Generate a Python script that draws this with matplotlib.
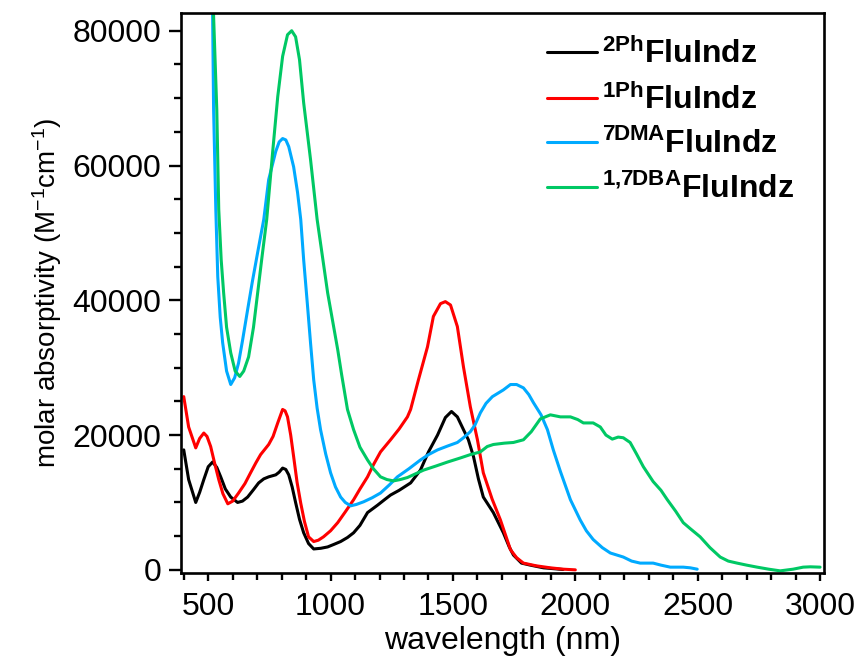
import matplotlib
matplotlib.use("Agg")
import matplotlib.pyplot as plt
from matplotlib.ticker import MultipleLocator, FixedLocator

plt.rcParams['font.family'] = ['Liberation Sans', 'DejaVu Sans']
plt.rcParams['mathtext.fontset'] = 'custom'
plt.rcParams['mathtext.rm'] = 'Liberation Sans'
plt.rcParams['mathtext.it'] = 'Liberation Sans:italic'
plt.rcParams['mathtext.sf'] = 'Liberation Sans:bold'
plt.rcParams['mathtext.bf'] = 'Liberation Sans:bold'

# ---- data ----
wl_2ph = [400, 420, 449, 465, 482, 500, 518, 535, 551, 570, 592, 620, 640, 661, 685, 706, 727,
          747, 776, 790, 804, 817, 829, 843, 857, 873, 890, 910, 931, 960, 988, 1015, 1041, 1069,
          1094, 1120, 1151, 1192, 1220, 1245, 1280, 1327, 1367, 1400, 1437, 1469, 1494, 1518,
          1543, 1563, 1584, 1604, 1624, 1665, 1706, 1730, 1747, 1780, 1816, 1870, 1950]
abs_2ph = [17800, 13400, 10000, 11500, 13400, 15300, 16000, 15200, 13800, 12000, 10800, 10000,
           10200, 10800, 11900, 12900, 13500, 13800, 14100, 14500, 15100, 14900, 14100, 12300,
           10000, 7500, 5500, 3900, 3100, 3200, 3400, 3800, 4200, 4800, 5500, 6600, 8500, 9600,
           10400, 11100, 11800, 12900, 14800, 17500, 20000, 22600, 23500, 22700, 20800, 19300,
           16800, 13500, 10800, 8500, 5500, 3400, 2200, 1000, 700, 300, 50]

wl_1ph = [400, 420, 449, 465, 482, 495, 510, 525, 543, 560, 580, 600, 624, 650, 673, 695, 714,
          747, 765, 784, 804, 814, 824, 837, 849, 863, 878, 893, 910, 931, 950, 971, 1000, 1029,
          1060, 1094, 1120, 1151, 1175, 1204, 1245, 1280, 1314, 1327, 1359, 1396, 1420, 1449,
          1469, 1490, 1518, 1543, 1571, 1600, 1624, 1660, 1694, 1735, 1760, 1788, 1840, 1898,
          1950, 2000]
abs_1ph = [25700, 21200, 18100, 19500, 20300, 19800, 18300, 16000, 13400, 11300, 9800, 10200,
           11400, 12800, 14400, 15900, 17100, 18600, 19800, 21800, 23800, 23600, 22700, 20000,
           16800, 13000, 9900, 7200, 4900, 4200, 4400, 4900, 5800, 7000, 8600, 10400, 12000,
           13800, 15600, 17500, 19300, 20900, 22700, 23800, 28200, 33100, 37600, 39500, 39800,
           39300, 36100, 30100, 24200, 19300, 14400, 10500, 7400, 3000, 1800, 1000, 600, 300,
           100, 0]

wl_7dma = [510, 518, 522, 531, 539, 549, 559, 575, 592, 608, 624, 640, 661, 680, 702, 727, 747,
           776, 790, 804, 817, 829, 849, 865, 878, 890, 905, 918, 931, 945, 959, 980, 1000, 1020,
           1041, 1060, 1082, 1105, 1135, 1170, 1204, 1240, 1273, 1320, 1367, 1400, 1437, 1480,
           1518, 1543, 1571, 1590, 1612, 1635, 1661, 1706, 1735, 1760, 1788, 1810, 1829, 1860,
           1886, 1910, 1939, 1980, 2020, 2045, 2073, 2110, 2143, 2196, 2230, 2265, 2318, 2350,
           2388, 2441, 2470, 2498]
abs_7dma = [100000, 82100, 68300, 53500, 43500, 37500, 33700, 29500, 27500, 28500, 30700, 34000,
            38600, 42700, 47100, 52000, 57900, 62100, 63500, 64000, 63800, 62800, 59800, 56000,
            52000, 46000, 39500, 33700, 28200, 24000, 20800, 17200, 14400, 12300, 10800, 10000,
            9500, 9700, 10100, 10700, 11400, 12600, 13800, 15000, 16300, 17100, 17800, 18400,
            18900, 19600, 20500, 21500, 23300, 24700, 25700, 26700, 27500, 27500, 27000, 26000,
            24800, 23000, 20800, 17800, 14600, 10400, 7400, 5800, 4500, 3300, 2500, 1900, 1300,
            1000, 1000, 700, 400, 400, 300, 100]

wl_17dba = [512, 522, 535, 543, 553, 563, 575, 592, 610, 629, 645, 665, 685, 702, 720, 739, 763,
            784, 804, 824, 841, 857, 873, 890, 918, 945, 988, 1029, 1045, 1069, 1094, 1120, 1151,
            1175, 1204, 1230, 1257, 1285, 1314, 1380, 1430, 1478, 1530, 1571, 1612, 1640, 1665,
            1710, 1747, 1788, 1820, 1857, 1898, 1939, 1980, 2010, 2033, 2073, 2102, 2125, 2151,
            2175, 2196, 2224, 2250, 2278, 2318, 2350, 2376, 2410, 2441, 2470, 2510, 2550, 2592,
            2625, 2661, 2700, 2743, 2790, 2837, 2890, 2931, 2960, 3000]
abs_17dba = [100000, 82100, 68300, 53500, 46000, 41100, 36000, 32200, 29500, 28700, 29500, 31600,
             36000, 41100, 46500, 52000, 61900, 70200, 76200, 79400, 80000, 79100, 75700, 69300,
             60900, 52000, 41100, 32700, 29000, 23800, 20800, 18200, 16300, 15000, 13800, 13400,
             13200, 13400, 13700, 14800, 15400, 16000, 16600, 17100, 17500, 18300, 18600, 18800,
             18900, 19300, 20500, 22400, 23000, 22700, 22700, 22300, 21800, 21800, 21200, 20000,
             19400, 19700, 19600, 18900, 17200, 15300, 13100, 11800, 10400, 8700, 7000, 6100,
             4900, 3300, 1900, 1300, 1000, 700, 400, 100, -150, 100, 400, 450, 400]

labels = [r"$\mathsf{^{2Ph}FluIndz}$", r"$\mathsf{^{1Ph}FluIndz}$",
          r"$\mathsf{^{7DMA}FluIndz}$", r"$\mathsf{^{1{,}7DBA}FluIndz}$"]
colors = ['#000000', '#ff0000', '#00aaff', '#00c864']

x_ticks = [500, 1000, 1500, 2000, 2500, 3000]
y_ticks = [0, 20000, 40000, 60000, 80000]

fig = plt.figure(figsize=(8.61, 6.6), dpi=100)
ax = fig.add_axes([0.210, 0.132, 0.747, 0.848])

series = [(wl_2ph, abs_2ph), (wl_1ph, abs_1ph), (wl_7dma, abs_7dma), (wl_17dba, abs_17dba)]
for (x, y), c, lab in zip(series, colors, labels):
    ax.plot(x, y, color=c, lw=2.2, label=lab, solid_joinstyle='round', solid_capstyle='round')

ax.set_xlim(388, 3016)
ax.set_ylim(-450, 82600)
ax.xaxis.set_major_locator(FixedLocator(x_ticks))
ax.xaxis.set_minor_locator(MultipleLocator(100))
ax.yaxis.set_major_locator(FixedLocator(y_ticks))
ax.yaxis.set_minor_locator(MultipleLocator(5000))
ax.set_xticklabels([str(v) for v in x_ticks])
ax.set_yticklabels([str(v) for v in y_ticks])

for s in ax.spines.values():
    s.set_linewidth(1.9)
ax.tick_params(axis='both', which='both', direction='out', width=1.7, labelsize=23,
               top=False, right=False)
ax.tick_params(axis='y', which='major', length=9, pad=5)
ax.tick_params(axis='y', which='minor', length=5)
ax.tick_params(axis='x', which='major', length=6, pad=8)
ax.tick_params(axis='x', which='minor', length=5)

ax.set_xlabel("wavelength (nm)", fontsize=23, labelpad=3)
ax.set_ylabel(r"molar absorptivity (M$^{\mathregular{-1}}$cm$^{\mathregular{-1}}$)", fontsize=20, labelpad=6)

leg = ax.legend(loc='upper left', bbox_to_anchor=(0.55, 0.978), frameon=False, fontsize=23,
                handlelength=1.55, handletextpad=0.15, labelspacing=0.42, borderaxespad=0.0)

fig.savefig("out.png", dpi=100)
